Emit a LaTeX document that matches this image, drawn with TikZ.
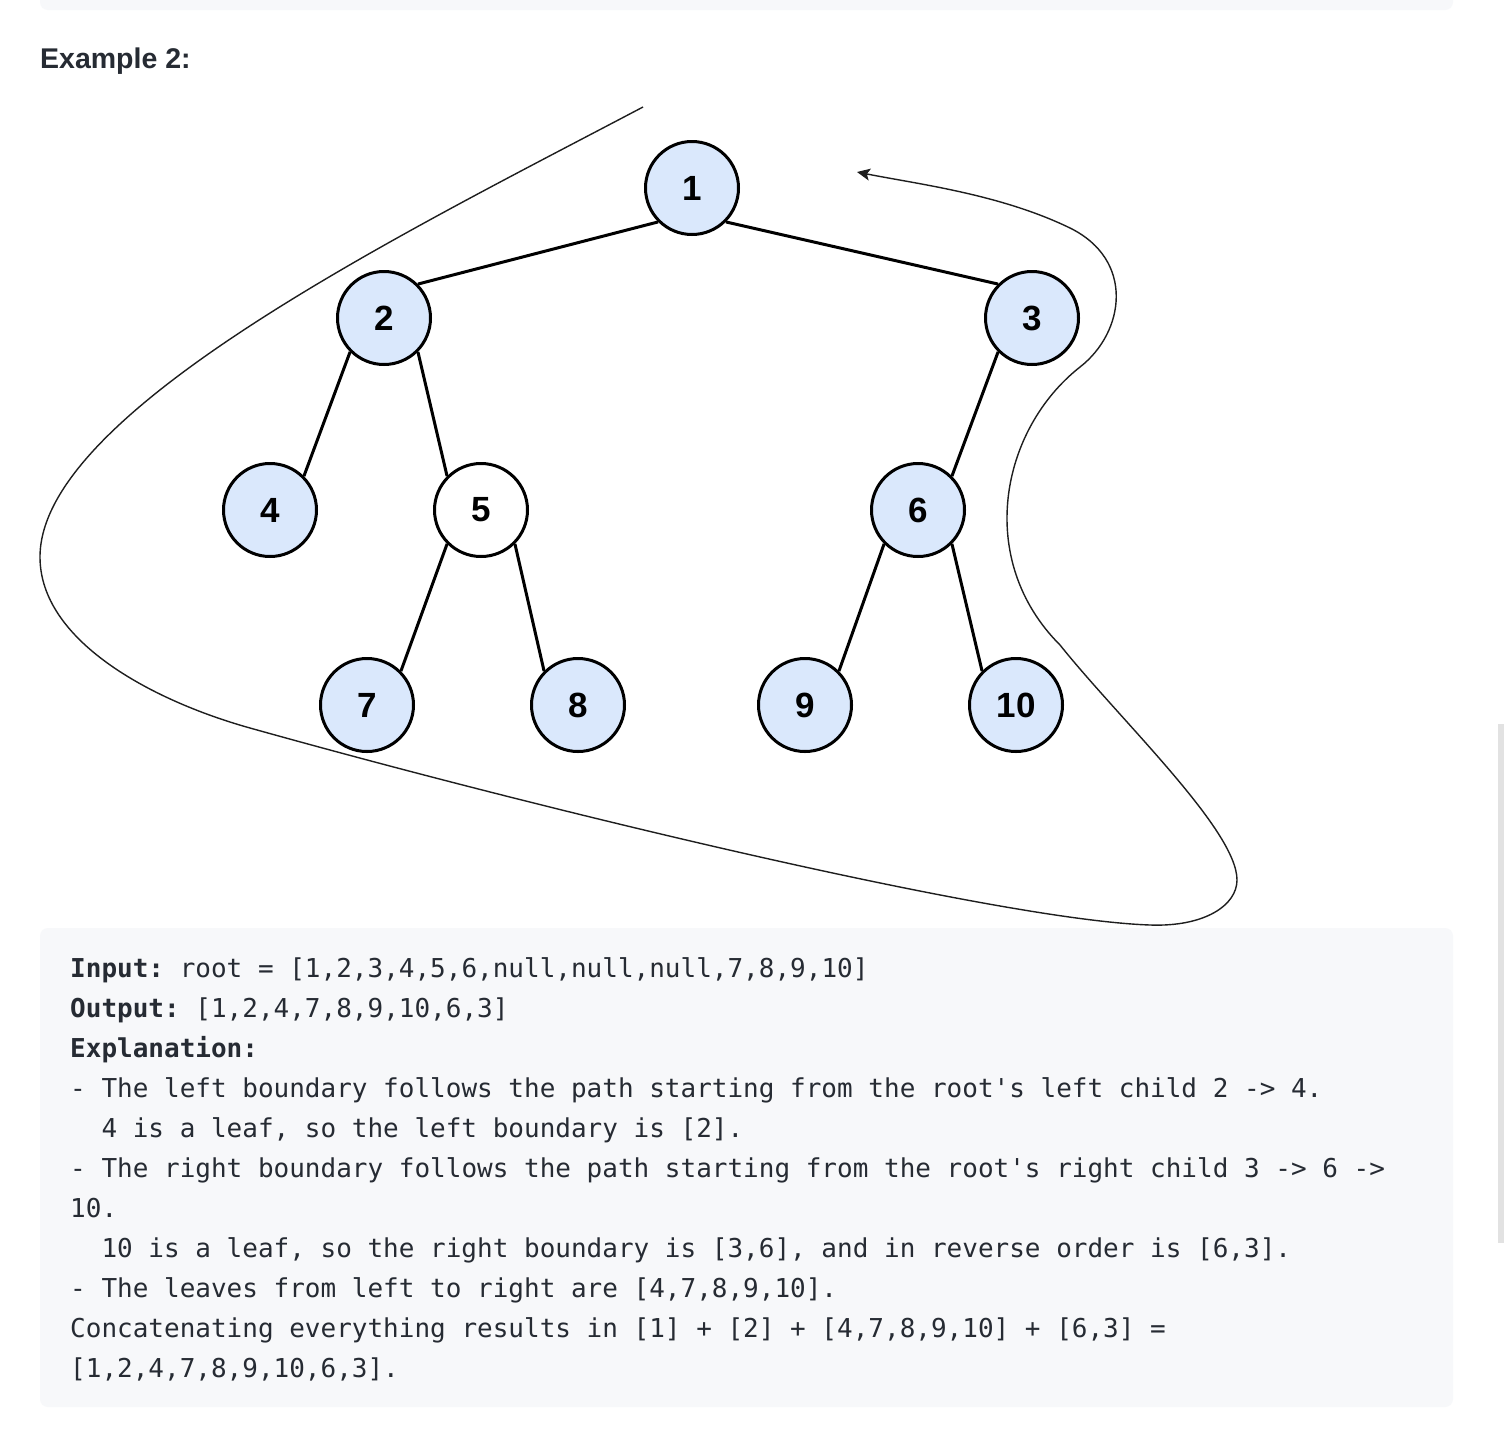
\documentclass[tikz,border=0pt]{standalone}
\usepackage{fontspec}
\setmainfont{Liberation Sans}
\setmonofont{DejaVu Sans Mono}
\usetikzlibrary{arrows.meta}
\definecolor{nodefill}{HTML}{DAE8FC}
\definecolor{codebg}{HTML}{F7F8FA}
\definecolor{txt}{HTML}{262B33}
\definecolor{scrollc}{HTML}{E2E2E2}
\definecolor{curvec}{HTML}{1E1E1E}
\begin{document}
\begin{tikzpicture}[x=1pt,y=-1pt,
  tnode/.style={circle, draw=black, line width=3pt, fill=nodefill, minimum size=93pt, inner sep=0pt,
    font=\fontsize{35}{35}\selectfont\bfseries, text=black},
  tedge/.style={line width=3pt, draw=black},
  codeline/.style={anchor=base west, inner sep=0pt, font=\fontsize{26}{26}\selectfont\ttfamily, text=txt},
  boundary/.style={draw=curvec, line width=1.4pt}]
\useasboundingbox (0,0) rectangle (1504,1430);
\fill[white] (0,0) rectangle (1504,1430);
% top code box remnant and scrollbar
\fill[codebg, rounded corners=8pt] (40,-30) rectangle (1453,10);
\fill[scrollc] (1498,724) rectangle (1504,1243);
% title
\node[anchor=base west, inner sep=0pt, font=\fontsize{28.5}{28.5}\selectfont\bfseries, text=txt] (title) at (40,68) {Example 2:};
% tree nodes
\node[tnode] (n1) at (692,188) {1};
\node[tnode] (n2) at (384,318) {2};
\node[tnode] (n3) at (1032,318) {3};
\node[tnode] (n4) at (270,510) {4};
\node[tnode, fill=white] (n5) at (481,510) {5};
\node[tnode] (n6) at (918,510) {6};
\node[tnode] (n7) at (367,705) {7};
\node[tnode] (n8) at (578,705) {8};
\node[tnode] (n9) at (805,705) {9};
\node[tnode] (n10) at (1016,705) {10};
% edges
\draw[tedge] (n1.225) -- (n2.45);
\draw[tedge] (n1.315) -- (n3.135);
\draw[tedge] (n2.225) -- (n4.45);
\draw[tedge] (n2.315) -- (n5.135);
\draw[tedge] (n3.225) -- (n6.45);
\draw[tedge] (n5.225) -- (n7.45);
\draw[tedge] (n5.315) -- (n8.135);
\draw[tedge] (n6.225) -- (n9.45);
\draw[tedge] (n6.315) -- (n10.135);
% boundary curve
\coordinate (cstart) at (643,107);
\coordinate (cend) at (857,172);
\draw[boundary, -{Stealth[length=13pt, width=12pt, inset=3pt]}]
  (cstart) .. controls (400,235) and (40,412) .. (40,557)
  .. controls (40,640) and (150,700) .. (250,728)
  .. controls (550,812) and (1000,920) .. (1150,925)
  .. controls (1205,927) and (1237,905) .. (1237,880)
  .. controls (1237,830) and (1120,720) .. (1060,645)
  .. controls (975,560) and (1000,430) .. (1080,367)
  .. controls (1125,332) and (1135,260) .. (1070,228)
  .. controls (1000,194) and (917,184) .. (cend);
% code block
\fill[codebg, rounded corners=8pt] (40,928) rectangle (1453,1407);
\node[codeline] (l1) at (70,977) {\textbf{Input:} root = [1,2,3,4,5,6,null,null,null,7,8,9,10]};
\node[codeline] (l2) at (70,1017) {\textbf{Output:} [1,2,4,7,8,9,10,6,3]};
\node[codeline] (l3) at (70,1057) {\textbf{Explanation:}};
\node[codeline] (l4) at (70,1097) {- The left boundary follows the path starting from the root's left child 2 -> 4.};
\node[codeline] (l5) at (101.3,1137) {4 is a leaf, so the left boundary is [2].};
\node[codeline] (l6) at (70,1177) {- The right boundary follows the path starting from the root's right child 3 -> 6 ->};
\node[codeline] (l7) at (70,1217) {10.};
\node[codeline] (l8) at (101.3,1257) {10 is a leaf, so the right boundary is [3,6], and in reverse order is [6,3].};
\node[codeline] (l9) at (70,1297) {- The leaves from left to right are [4,7,8,9,10].};
\node[codeline] (l10) at (70,1337) {Concatenating everything results in [1] + [2] + [4,7,8,9,10] + [6,3] =};
\node[codeline] (l11) at (70,1377) {[1,2,4,7,8,9,10,6,3].};
\end{tikzpicture}
\end{document}
